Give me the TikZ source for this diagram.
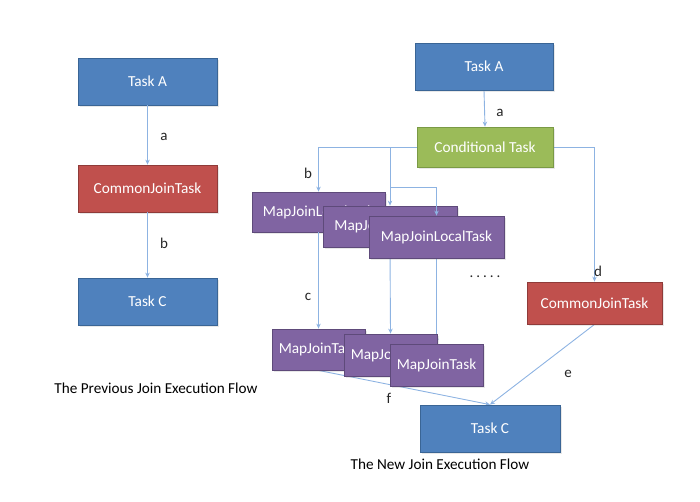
\documentclass[tikz,border=0pt]{standalone}
\usepackage{fontspec}
\setmainfont{Carlito}
\usetikzlibrary{arrows.meta,shadows}
\pgfdeclarelayer{bg}
\pgfsetlayers{bg,main}
\definecolor{tblue}{HTML}{4F81BD}
\definecolor{tblueb}{HTML}{3A6595}
\definecolor{tred}{HTML}{C0504D}
\definecolor{tredb}{HTML}{8F3B39}
\definecolor{tgreen}{HTML}{9BBB59}
\definecolor{tgreenb}{HTML}{7A9A45}
\definecolor{tpurple}{HTML}{8064A2}
\definecolor{tpurpleb}{HTML}{5E4A7A}
\definecolor{conncol}{HTML}{8DB3E2}
\definecolor{labcol}{HTML}{262626}
\tikzset{
  box/.style={draw, line width=0.8pt, inner sep=0pt, text=white, font=\fontsize{15.3}{17}\selectfont,
    drop shadow={opacity=0.18, shadow xshift=1.5pt, shadow yshift=-1.5pt}},
  bluebox/.style={box, fill=tblue, draw=tblueb},
  redbox/.style={box, fill=tred, draw=tredb},
  greenbox/.style={box, fill=tgreen, draw=tgreenb},
  purplebox/.style={box, fill=tpurple, draw=tpurpleb},
  conn/.style={draw=conncol, line width=0.9pt, -{Stealth[length=5pt,width=4.5pt]}},
  lab/.style={text=labcol, font=\fontsize{15}{17}\selectfont, inner sep=0pt},
  captext/.style={text=black, font=\fontsize{15.2}{17}\selectfont, inner sep=0pt}
}
\begin{document}
\begin{tikzpicture}[x=1pt,y=-1pt]
\useasboundingbox (0,0) rectangle (700,501);

% ---- left: previous flow ----
\node[bluebox, minimum width=139pt, minimum height=47pt] (tA1) at (147.5,81.5) {Task A};
\node[redbox, minimum width=139pt, minimum height=47pt] (cj1) at (147.5,188.5) {CommonJoinTask};
\node[bluebox, minimum width=139pt, minimum height=47pt] (tC1) at (147.5,301.5) {Task C};
\draw[conn] (tA1.south) -- (cj1.north);
\draw[conn] (cj1.south) -- (tC1.north);
\node[lab] (la1) at (164,137) {a};
\node[lab] (lb1) at (164,243) {b};
\node[captext] (cap1) at (156,388) {The Previous Join Execution Flow};

% ---- right: new flow ----
\node[bluebox, minimum width=138pt, minimum height=47pt] (tA2) at (484,66.5) {Task A};
\node[greenbox, minimum width=136pt, minimum height=40pt] (ct) at (485,147) {Conditional Task};
\begin{pgfonlayer}{bg}
\node[purplebox, minimum width=133pt, minimum height=40pt] (ml1) at (318.5,212) {MapJoinLocalTask};
\node[purplebox, minimum width=134pt, minimum height=41pt] (ml2) at (390,226.5) {MapJoinLocalTask};
\end{pgfonlayer}
\node[purplebox, minimum width=135pt, minimum height=42pt] (ml3) at (436.5,237) {MapJoinLocalTask};
\node[purplebox, minimum width=93pt, minimum height=41pt] (mj1) at (318.5,349.5) {MapJoinTask};
\node[purplebox, minimum width=93pt, minimum height=42pt] (mj2) at (390.5,355) {MapJoinTask};
\node[purplebox, minimum width=93pt, minimum height=42pt] (mj3) at (436.5,365) {MapJoinTask};
\node[redbox, minimum width=135pt, minimum height=42pt] (cj2) at (594.5,303) {CommonJoinTask};
\node[bluebox, minimum width=140pt, minimum height=47pt] (tC2) at (490,428.5) {Task C};

\coordinate (j1) at (390,147);
\coordinate (j2) at (390,187);
\coordinate (j3) at (436.5,187);

\begin{pgfonlayer}{bg}
\draw[conn] (tA2.south) -- (ct.north);
\draw[conn] (ct.west) -| (ml1.north);
\draw[conn] (j1) -- (ml2.north);
\draw[conn] (j2) -- (j3) -- (ml3.north);
\draw[conn] (ml1.south) -- (mj1.north);
\draw[conn] (ml2.south) -- (mj2.north);
\draw[conn] (ml3.south) -- (mj3.north);
\draw[conn] (ct.east) -| (cj2.north);
\draw[conn] (cj2.south) -- (tC2.north);
\draw[conn] (mj1.south) -- (tC2.north);
\end{pgfonlayer}

\node[lab] (la2) at (500,113) {a};
\node[lab] (lb2) at (308,173) {b};
\node[lab] (lc2) at (308,297) {c};
\node[lab] (ld2) at (598,271) {d};
\node[lab] (le2) at (568,374) {e};
\node[lab] (lf2) at (389,398) {f};
\node[lab] (dots) at (485,277) {.\hspace{3pt}.\hspace{3pt}.\hspace{3pt}.\hspace{3pt}.};
\node[captext] (cap2) at (440,464) {The New Join Execution Flow};
\end{tikzpicture}
\end{document}
